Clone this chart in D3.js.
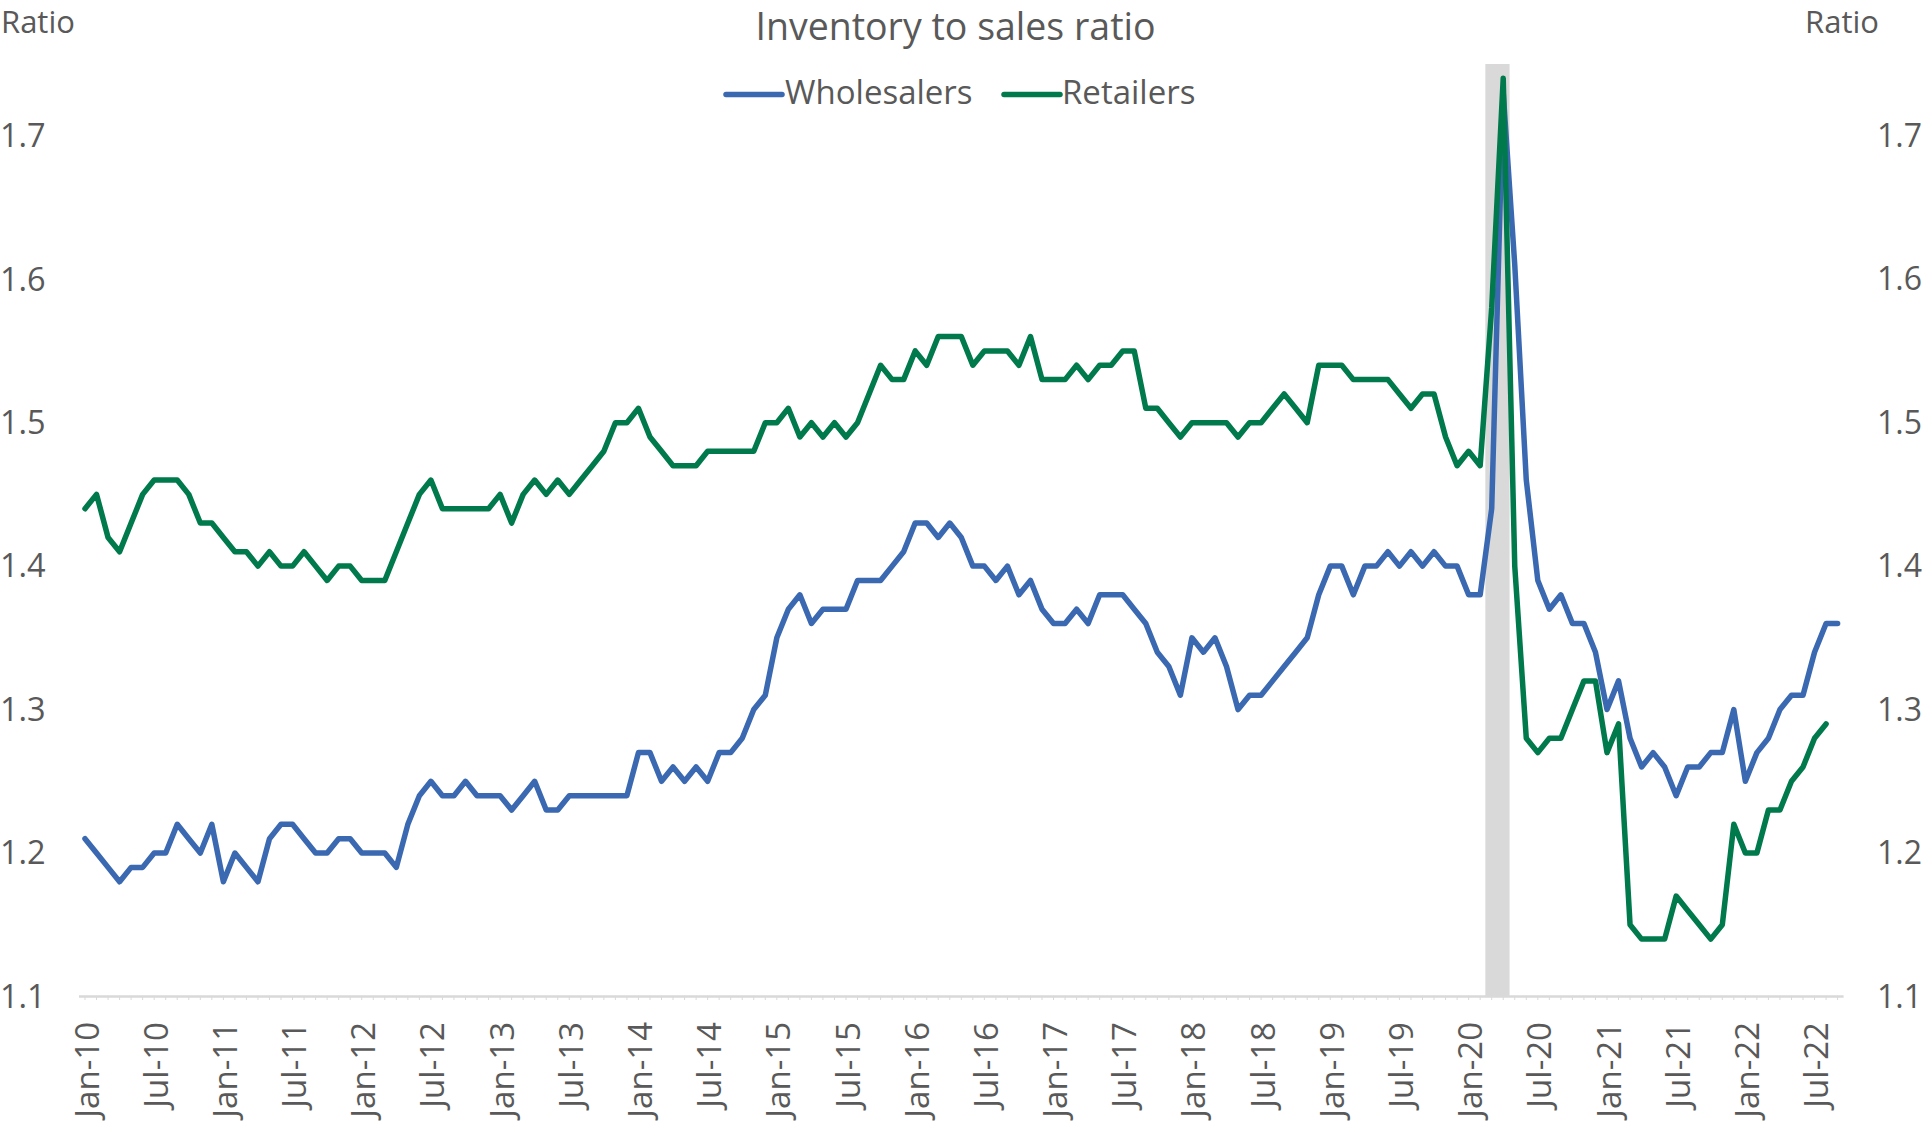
<!DOCTYPE html>
<html>
<head>
<meta charset="utf-8">
<script src="https://cdn.jsdelivr.net/npm/d3@7"></script>
<style>
  html, body { margin: 0; padding: 0; background: #ffffff; }
  svg { display: block; }
  text { font-family: "Open Sans", "Noto Sans", sans-serif; fill: #595959; }
</style>
</head>
<body>
<svg id="chart" width="1923" height="1126"></svg>
<script>
// ---------------- DATA ----------------
const categories = [
  "Jan-10","Feb-10","Mar-10","Apr-10","May-10","Jun-10","Jul-10","Aug-10","Sep-10","Oct-10","Nov-10","Dec-10",
  "Jan-11","Feb-11","Mar-11","Apr-11","May-11","Jun-11","Jul-11","Aug-11","Sep-11","Oct-11","Nov-11","Dec-11",
  "Jan-12","Feb-12","Mar-12","Apr-12","May-12","Jun-12","Jul-12","Aug-12","Sep-12","Oct-12","Nov-12","Dec-12",
  "Jan-13","Feb-13","Mar-13","Apr-13","May-13","Jun-13","Jul-13","Aug-13","Sep-13","Oct-13","Nov-13","Dec-13",
  "Jan-14","Feb-14","Mar-14","Apr-14","May-14","Jun-14","Jul-14","Aug-14","Sep-14","Oct-14","Nov-14","Dec-14",
  "Jan-15","Feb-15","Mar-15","Apr-15","May-15","Jun-15","Jul-15","Aug-15","Sep-15","Oct-15","Nov-15","Dec-15",
  "Jan-16","Feb-16","Mar-16","Apr-16","May-16","Jun-16","Jul-16","Aug-16","Sep-16","Oct-16","Nov-16","Dec-16",
  "Jan-17","Feb-17","Mar-17","Apr-17","May-17","Jun-17","Jul-17","Aug-17","Sep-17","Oct-17","Nov-17","Dec-17",
  "Jan-18","Feb-18","Mar-18","Apr-18","May-18","Jun-18","Jul-18","Aug-18","Sep-18","Oct-18","Nov-18","Dec-18",
  "Jan-19","Feb-19","Mar-19","Apr-19","May-19","Jun-19","Jul-19","Aug-19","Sep-19","Oct-19","Nov-19","Dec-19",
  "Jan-20","Feb-20","Mar-20","Apr-20","May-20","Jun-20","Jul-20","Aug-20","Sep-20","Oct-20","Nov-20","Dec-20",
  "Jan-21","Feb-21","Mar-21","Apr-21","May-21","Jun-21","Jul-21","Aug-21","Sep-21","Oct-21","Nov-21","Dec-21",
  "Jan-22","Feb-22","Mar-22","Apr-22","May-22","Jun-22","Jul-22","Aug-22","Sep-22"
];

const wholesalers = [
  1.21,1.20,1.19,1.18,1.19,1.19,1.20,1.20,1.22,1.21,1.20,1.22,
  1.18,1.20,1.19,1.18,1.21,1.22,1.22,1.21,1.20,1.20,1.21,1.21,
  1.20,1.20,1.20,1.19,1.22,1.24,1.25,1.24,1.24,1.25,1.24,1.24,
  1.24,1.23,1.24,1.25,1.23,1.23,1.24,1.24,1.24,1.24,1.24,1.24,
  1.27,1.27,1.25,1.26,1.25,1.26,1.25,1.27,1.27,1.28,1.30,1.31,
  1.35,1.37,1.38,1.36,1.37,1.37,1.37,1.39,1.39,1.39,1.40,1.41,
  1.43,1.43,1.42,1.43,1.42,1.40,1.40,1.39,1.40,1.38,1.39,1.37,
  1.36,1.36,1.37,1.36,1.38,1.38,1.38,1.37,1.36,1.34,1.33,1.31,
  1.35,1.34,1.35,1.33,1.30,1.31,1.31,1.32,1.33,1.34,1.35,1.38,
  1.40,1.40,1.38,1.40,1.40,1.41,1.40,1.41,1.40,1.41,1.40,1.40,
  1.38,1.38,1.44,1.73,1.61,1.46,1.39,1.37,1.38,1.36,1.36,1.34,
  1.30,1.32,1.28,1.26,1.27,1.26,1.24,1.26,1.26,1.27,1.27,1.30,
  1.25,1.27,1.28,1.30,1.31,1.31,1.34,1.36,1.36
];

const retailers = [
  1.44,1.45,1.42,1.41,1.43,1.45,1.46,1.46,1.46,1.45,1.43,1.43,
  1.42,1.41,1.41,1.40,1.41,1.40,1.40,1.41,1.40,1.39,1.40,1.40,
  1.39,1.39,1.39,1.41,1.43,1.45,1.46,1.44,1.44,1.44,1.44,1.44,
  1.45,1.43,1.45,1.46,1.45,1.46,1.45,1.46,1.47,1.48,1.50,1.50,
  1.51,1.49,1.48,1.47,1.47,1.47,1.48,1.48,1.48,1.48,1.48,1.50,
  1.50,1.51,1.49,1.50,1.49,1.50,1.49,1.50,1.52,1.54,1.53,1.53,
  1.55,1.54,1.56,1.56,1.56,1.54,1.55,1.55,1.55,1.54,1.56,1.53,
  1.53,1.53,1.54,1.53,1.54,1.54,1.55,1.55,1.51,1.51,1.50,1.49,
  1.50,1.50,1.50,1.50,1.49,1.50,1.50,1.51,1.52,1.51,1.50,1.54,
  1.54,1.54,1.53,1.53,1.53,1.53,1.52,1.51,1.52,1.52,1.49,1.47,
  1.48,1.47,1.58,1.74,1.40,1.28,1.27,1.28,1.28,1.30,1.32,1.32,
  1.27,1.29,1.15,1.14,1.14,1.14,1.17,1.16,1.15,1.14,1.15,1.22,
  1.20,1.20,1.23,1.23,1.25,1.26,1.28,1.29
];

const recessionMonths = ["Mar-20", "Apr-20"];

const tickLabels = [
  "Jan-10","Jul-10","Jan-11","Jul-11","Jan-12","Jul-12","Jan-13","Jul-13",
  "Jan-14","Jul-14","Jan-15","Jul-15","Jan-16","Jul-16","Jan-17","Jul-17",
  "Jan-18","Jul-18","Jan-19","Jul-19","Jan-20","Jul-20","Jan-21","Jul-21",
  "Jan-22","Jul-22"
];

const yTicks = [1.1, 1.2, 1.3, 1.4, 1.5, 1.6, 1.7];

const seriesNames = ["Wholesalers", "Retailers"];
const seriesColors = ["#3A68B1", "#00794C"];
const title = "Inventory to sales ratio";
const axisTitle = "Ratio";

// ---------------- CHART ----------------
const svg = d3.select("#chart");

const x = d3.scalePoint().domain(categories).range([85, 1837.6]);
const step = x.step();
const y = d3.scaleLinear().domain([1.1, 1.75]).range([996.5, 64]);

// Recession shading
const band0 = x(recessionMonths[0]) - step * 0.55;
const band1 = x(recessionMonths[recessionMonths.length - 1]) + step * 0.55;
svg.append("rect")
  .attr("x", band0).attr("y", y(1.75))
  .attr("width", band1 - band0).attr("height", y(1.1) - y(1.75))
  .attr("fill", "#d9d9d9");

// X axis line + monthly ticks
const axisG = svg.append("g");
axisG.append("line")
  .attr("x1", x(categories[0]) - 6).attr("x2", x(categories[categories.length - 1]) + 6)
  .attr("y1", y(1.1)).attr("y2", y(1.1))
  .attr("stroke", "#d9d9d9").attr("stroke-width", 2.5);
axisG.selectAll("line.tick").data(categories).enter().append("line")
  .attr("class", "tick")
  .attr("x1", d => x(d)).attr("x2", d => x(d))
  .attr("y1", y(1.1)).attr("y2", y(1.1) + 3.5)
  .attr("stroke", "#d9d9d9").attr("stroke-width", 1);

// X tick labels (rotated)
svg.append("g").selectAll("text").data(tickLabels).enter().append("text")
  .attr("transform", d => `translate(${x(d) + 2},1022) rotate(-90)`)
  .attr("text-anchor", "end")
  .attr("dy", "0.35em")
  .style("font-size", "33px")
  .text(d => d);

// Y tick labels, left and right
const yl = svg.append("g");
yl.selectAll("text.l").data(yTicks).enter().append("text")
  .attr("class", "l")
  .attr("x", 0).attr("y", d => y(d)).attr("dy", "0.35em")
  .attr("text-anchor", "start")
  .style("font-size", "32.5px")
  .text(d => d3.format(".1f")(d));
yl.selectAll("text.r").data(yTicks).enter().append("text")
  .attr("class", "r")
  .attr("x", 1922).attr("y", d => y(d)).attr("dy", "0.35em")
  .attr("text-anchor", "end")
  .style("font-size", "32px")
  .text(d => d3.format(".1f")(d));

// Axis titles
svg.append("text").attr("x", 1).attr("y", 33).style("font-size", "31px").text(axisTitle);
svg.append("text").attr("x", 1879).attr("y", 33).attr("text-anchor", "end").style("font-size", "31px").text(axisTitle);

// Title
svg.append("text").attr("x", 955.5).attr("y", 40).attr("text-anchor", "middle")
  .style("font-size", "37.5px").text(title);

// Lines
const line = d3.line()
  .x((d, i) => x(categories[i]))
  .y(d => y(d));

[wholesalers, retailers].forEach((vals, k) => {
  svg.append("path")
    .datum(vals)
    .attr("d", line)
    .attr("fill", "none")
    .attr("stroke", seriesColors[k])
    .attr("stroke-width", 5.5)
    .attr("stroke-linejoin", "round")
    .attr("stroke-linecap", "round");
});

// Legend
const legendItems = [
  { name: seriesNames[0], color: seriesColors[0], x0: 726, x1: 782, tx: 785 },
  { name: seriesNames[1], color: seriesColors[1], x0: 1004, x1: 1060, tx: 1062 }
];
const lg = svg.append("g");
legendItems.forEach(it => {
  lg.append("line")
    .attr("x1", it.x0).attr("x2", it.x1).attr("y1", 94.5).attr("y2", 94.5)
    .attr("stroke", it.color).attr("stroke-width", 5.5).attr("stroke-linecap", "round");
  lg.append("text").attr("x", it.tx).attr("y", 103.5)
    .style("font-size", "33px").text(it.name);
});
</script>
</body>
</html>
